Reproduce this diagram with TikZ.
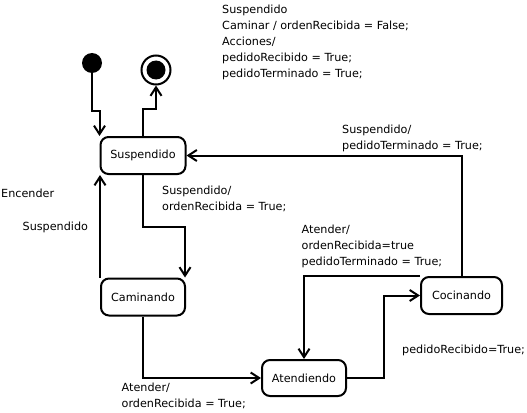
\documentclass[tikz,border=0pt]{standalone}
\usepackage{fontspec}
\newfontfamily\diagfont{DejaVu Sans}
\usetikzlibrary{arrows.meta,calc}
\begin{document}
\begin{tikzpicture}[x=1pt,y=-1pt,
  every node/.style={font=\diagfont\fontsize{11.2pt}{16pt}\selectfont},
  stbox/.style={draw,line width=2pt,rounded corners=8pt,minimum width=85pt,minimum height=37pt,inner sep=0pt,fill=white},
  lbl/.style={anchor=north west,inner sep=0pt,align=left},
  conn/.style={line width=2pt,-{Straight Barb[length=8.5pt,width=11pt,line width=2pt]}}]
\useasboundingbox[fill=white] (0,0) rectangle (527,412);
% states
\node[stbox] (S) at (143,155.5) {Suspendido};
\node[stbox,minimum width=84pt] (C) at (143,297) {Caminando};
\node[stbox,minimum width=84pt,minimum height=36pt] (A) at (304,378) {Atendiendo};
\node[stbox,minimum width=81pt] (K) at (461.5,295.5) {Cocinando};
\node[circle,fill,inner sep=0pt,minimum size=20pt] (I) at (92,63) {};
\node[circle,draw,line width=2pt,fill=white,inner sep=0pt,minimum size=29pt] (F) at (156,70) {};
\node[circle,fill,inner sep=0pt,minimum size=19pt] (Fi) at (F.center) {};
% connectors
\draw[conn] (I.south) -- ++(0,38) -| (S.north west);
\draw[conn] (S.north) -- ++(0,-27) -| (F.south);
\draw[conn] (K.north) |- (S.east);
\draw[conn] (S.south) -- ++(0,52) -| ($(C.north east)+(-1,0)$);
\draw[conn] (C.north west) -- (C.north west |- S.south);
\draw[conn] (C.south) |- (A.west);
\draw[conn] (A.east) -- ++(37,0) |- (K.west);
\draw[conn] (K.north west) -| (A.north);
% labels
\node[lbl] (t0) at (222,4.5) {Suspendido\\Caminar / ordenRecibida = False;\\Acciones/\\pedidoRecibido = True;\\pedidoTerminado = True;};
\node[lbl] (t1) at (342,124.5) {Suspendido/\\pedidoTerminado = True;};
\node[lbl] (t2) at (1,189) {Encender};
\node[lbl] (t3) at (22.5,222) {Suspendido};
\node[lbl] (t4) at (162,186) {Suspendido/\\ordenRecibida = True;};
\node[lbl] (t5) at (301.5,224.5) {Atender/\\ordenRecibida=true\\pedidoTerminado = True;};
\node[lbl] (t6) at (402,344.5) {pedidoRecibido=True;};
\node[lbl] (t7) at (121.5,382.5) {Atender/\\ordenRecibida = True;};
\end{tikzpicture}
\end{document}
